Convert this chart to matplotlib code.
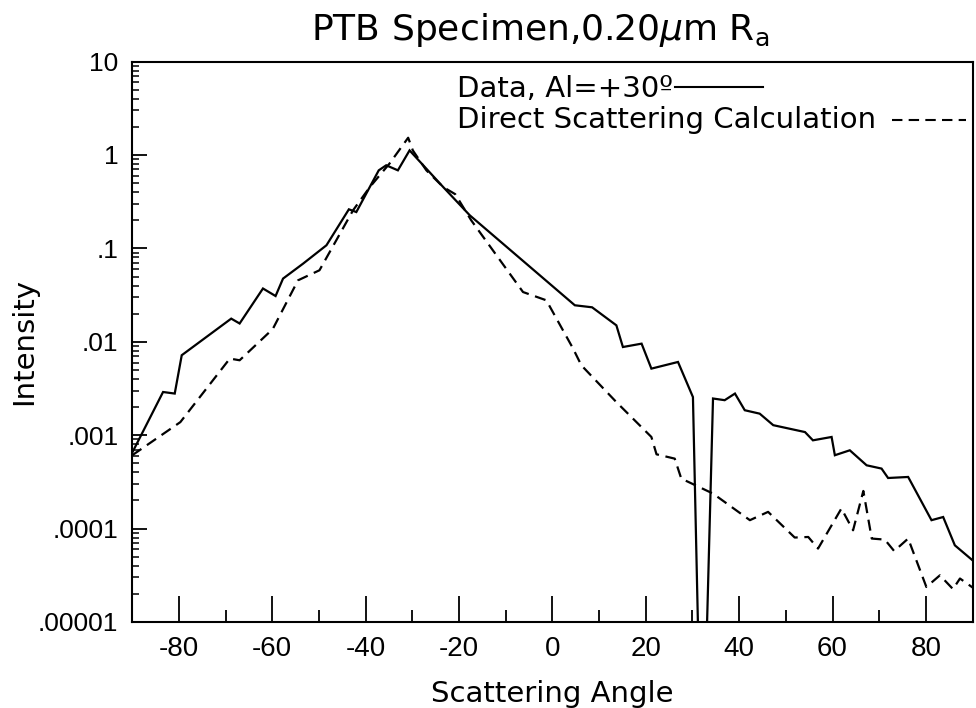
import matplotlib
matplotlib.use("Agg")
import matplotlib.pyplot as plt
from matplotlib.ticker import FixedLocator, FixedFormatter, LogLocator, NullFormatter

plt.rcParams['font.family'] = ['Liberation Sans', 'DejaVu Sans']
plt.rcParams['mathtext.fontset'] = 'dejavusans'

# Measured data (solid line)
data_angle = [-90, -83.4, -80.9, -79.4, -68.8, -67.0, -62.0, -59.3, -57.7, -53.4, -48.4,
              -43.6, -42.0, -37.2, -35.6, -33.1, -30.6, -23.4, -17.7, 4.8, 8.5, 13.7,
              15.1, 19.1, 21.2, 26.9, 30.1, 31.6, 32.6, 34.4, 36.9, 39.1, 41.2, 44.4,
              47.3, 54.1, 55.8, 59.8, 60.5, 63.7, 67.3, 70.5, 71.9, 76.2, 81.2, 83.7,
              86.2, 90]
data_intensity = [6.5e-4, 2.90e-3, 2.79e-3, 7.18e-3, 1.77e-2, 1.57e-2, 3.72e-2, 3.09e-2,
                  4.75e-2, 6.87e-2, 0.108, 0.262, 0.245, 0.685, 0.776, 0.685, 1.12, 0.454,
                  0.226, 0.0246, 0.0234, 0.0150, 0.00879, 0.00955, 0.00516, 0.00608,
                  0.00256, 1e-6, 1e-6, 0.00247, 0.00237, 0.00279, 0.00185, 0.00170,
                  0.00128, 0.00108, 8.81e-4, 9.57e-4, 6.10e-4, 6.89e-4, 4.76e-4, 4.39e-4,
                  3.48e-4, 3.57e-4, 1.23e-4, 1.33e-4, 6.62e-5, 4.57e-5]

# Direct scattering calculation (dashed line)
calc_angle = [-90, -79.7, -69.1, -67.0, -59.9, -54.5, -49.9, -46.3, -42.7, -39.1, -34.9,
              -30.9, -29.9, -27.0, -23.4, -20.8, -17.4, -6.3, -1.3, 4.4, 6.2, 13.7, 21.2,
              22.3, 26.2, 27.6, 34.4, 42.3, 46.2, 51.9, 54.8, 56.9, 61.9, 64.4, 66.6,
              68.4, 71.2, 73.2, 76.2, 80.1, 83.0, 85.8, 87.3, 90]
calc_intensity = [6.1e-4, 1.38e-3, 6.61e-3, 6.34e-3, 1.37e-2, 4.55e-2, 5.83e-2, 0.122,
                  0.256, 0.454, 0.809, 1.53, 1.12, 0.685, 0.454, 0.380, 0.200, 0.0341,
                  0.0278, 0.00851, 0.00560, 0.00226, 9.57e-4, 6.24e-4, 5.61e-4, 3.43e-4,
                  2.37e-4, 1.23e-4, 1.51e-4, 8.02e-5, 8.13e-5, 6.11e-5, 1.64e-4, 9.59e-5,
                  2.53e-4, 7.82e-5, 7.62e-5, 5.75e-5, 7.82e-5, 2.37e-5, 3.16e-5, 2.25e-5,
                  2.92e-5, 2.34e-5]

x_major = [-80, -60, -40, -20, 0, 20, 40, 60, 80]
x_labels = ['-80', '-60', '-40', '-20', '0', '20', '40', '60', '80']
x_minor = [-70, -50, -30, -10, 10, 30, 50, 70]
y_ticks = [1e1, 1e0, 1e-1, 1e-2, 1e-3, 1e-4, 1e-5]
y_labels = ['10', '1', '.1', '.01', '.001', '.0001', '.00001']

title = 'PTB Specimen,0.20$\\mu$m R$_{\\mathrm{a}}$'
label_data = 'Data, Al=+30\u00ba'
label_calc = 'Direct Scattering Calculation'

TXT = ['DejaVu Sans']

fig = plt.figure(figsize=(9.76, 7.08), dpi=100)
ax = fig.add_axes([0.1355, 0.1215, 0.861, 0.7915])

ax.plot(data_angle, data_intensity, color='black', lw=1.6, solid_joinstyle='miter')
ax.plot(calc_angle, calc_intensity, color='black', lw=1.6, dashes=(5, 3))

ax.set_yscale('log')
ax.set_xlim(-90, 90)
ax.set_ylim(1e-5, 10)

ax.xaxis.set_major_locator(FixedLocator(x_major))
ax.xaxis.set_major_formatter(FixedFormatter(x_labels))
ax.xaxis.set_minor_locator(FixedLocator(x_minor))
ax.yaxis.set_major_locator(FixedLocator(y_ticks))
ax.yaxis.set_major_formatter(FixedFormatter(y_labels))
ax.yaxis.set_minor_locator(LogLocator(base=10, subs=range(2, 10)))
ax.yaxis.set_minor_formatter(NullFormatter())

ax.tick_params(axis='x', which='major', direction='in', length=19, width=1.3,
               labelsize=20, pad=10, top=False)
ax.tick_params(axis='x', which='minor', direction='in', length=8.5, width=1.3, top=False)
ax.tick_params(axis='y', which='major', direction='in', length=11, width=1.3,
               labelsize=19, pad=10, right=False)
ax.tick_params(axis='y', which='minor', direction='in', length=5, width=1.1, right=False)

for sp in ax.spines.values():
    sp.set_linewidth(1.5)

ax.set_xlabel('Scattering Angle', fontsize=21, family=TXT)
ax.xaxis.set_label_coords(0.5, -0.104)
ax.set_ylabel('Intensity', fontsize=21, family=TXT)
ax.yaxis.set_label_coords(-0.112, 0.5)

fig.text(540 / 976, 0.9435, title, fontsize=26, family=TXT, ha='center', va='baseline')

# legend-style annotations
ax.text(0.386, 0.936, label_data, transform=ax.transAxes, fontsize=21, family=TXT,
        va='baseline', ha='left')
ax.text(0.386, 0.881, label_calc, transform=ax.transAxes, fontsize=21, family=TXT,
        va='baseline', ha='left')
ax.plot([0.646, 0.750], [0.954, 0.954], transform=ax.transAxes, color='black', lw=1.5)
ax.plot([0.904, 0.992], [0.896, 0.896], transform=ax.transAxes, color='black', lw=1.5,
        dashes=(5, 3))

fig.savefig('out.png', dpi=100)
